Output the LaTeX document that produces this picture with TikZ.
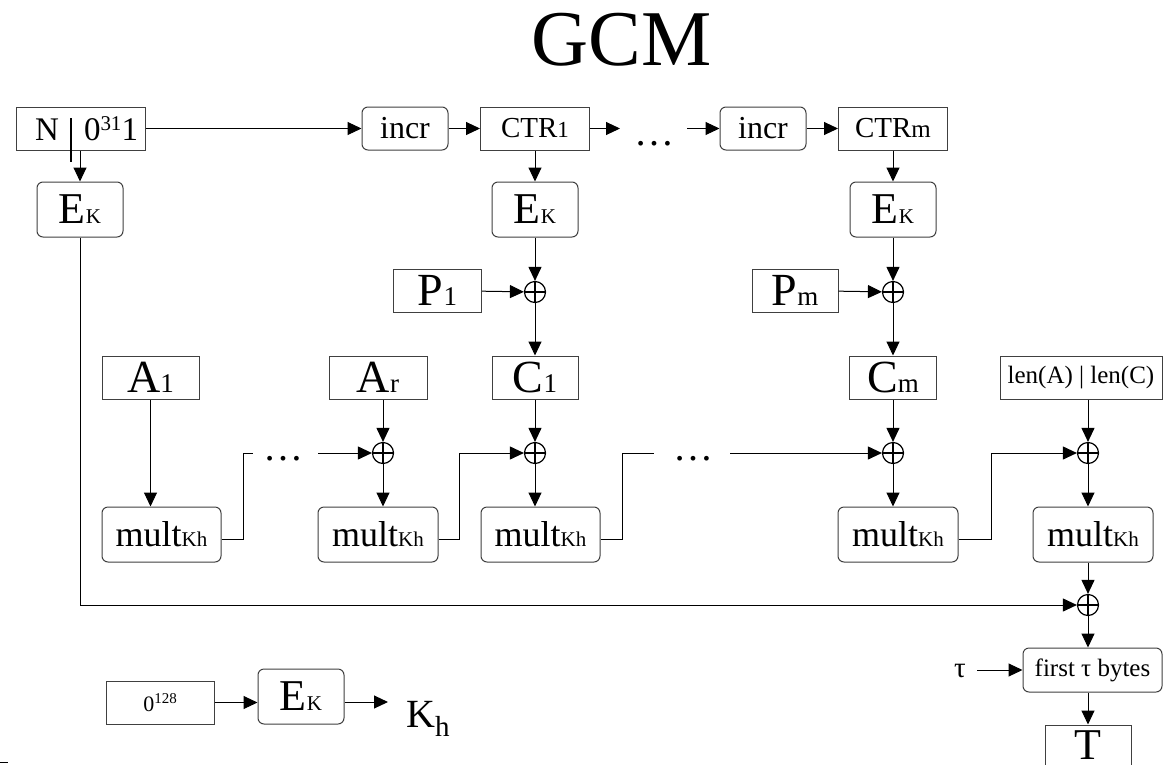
\documentclass[tikz,border=0pt]{standalone}
\usepackage{fontspec}
\setmainfont{Liberation Serif}
\usetikzlibrary{arrows.meta}
\newcommand\fs[1]{\fontsize{#1}{#1}\selectfont}

\tikzset{
  box/.style n args={2}{draw=black!75, line width=1pt, inner sep=0pt,
    minimum width=#1pt, minimum height=#2pt},
  rbox/.style n args={2}{box={#1}{#2}, rounded corners=6pt},
  xor/.style={circle, draw=black, line width=1.2pt, minimum size=21pt, inner sep=0pt,
    path picture={\draw[line width=1.2pt]
      (path picture bounding box.north) -- (path picture bounding box.south)
      (path picture bounding box.west) -- (path picture bounding box.east);}},
  arr/.style={-{Triangle[length=14pt,width=13pt]}, line width=1pt},
  wire/.style={line width=1pt},
  txt/.style={inner sep=0pt, anchor=base},
}

\begin{document}
\begin{tikzpicture}[x=1pt,y=-1pt]
\fill[white] (0,0) rectangle (1163,764);
\useasboundingbox (0,0) rectangle (1163,764);

% title
\node[txt] (title) at (621.5,65) {\fs{79}GCM};

% counter chain
\node[box={129}{43}] (n) at (80.5,128.5) {};
\node[txt] (nN) at (47,140) {\fs{33}N};
\node[txt] (nZ) at (111,140) {\fs{33}0\raisebox{10pt}{\fs{21}31}1};
\draw[line width=1.3pt] (71,118) -- (71,162);

\node[rbox={86}{55}] (ek0) at (80,209.5) {\fs{44}E\fs{21}K};
\node[rbox={86}{43}] (incr1) at (405,128.5) {\fs{32}incr};
\node[box={109}{43}] (ctr1) at (535,128.5) {\fs{29}CTR\fs{23}1};
\coordinate (dt1) at (620,128.5);
\node[txt] (dotsA) at (654,145) {\fs{40}…};
\coordinate (dt2) at (687,128.5);
\node[rbox={86}{43}] (incr2) at (763,128.5) {\fs{32}incr};
\node[box={109}{43}] (ctrm) at (893,128.5) {\fs{29}CTR\fs{25}m};

\draw[arr] (n.east) -- (incr1.west);
\draw[arr] (incr1) -- (ctr1);
\draw[arr] (ctr1.east) -- (dt1);
\draw[arr] (dt2) -- (incr2.west);
\draw[arr] (incr2) -- (ctrm);
\draw[arr] (n.south -| ek0.north) -- (ek0.north);

% encryption of the counters
\node[rbox={86}{55}] (ek1) at (535,209.5) {\fs{44}E\fs{21}K};
\node[rbox={86}{55}] (ekm) at (893,209.5) {\fs{44}E\fs{21}K};
\node[xor] (x1) at (535,292) {};
\node[xor] (xm) at (893,292) {};
\node[box={88}{43}] (p1) at (437.5,290.5) {\fs{46}P\fs{27}1};
\node[box={86}{43}] (pm) at (795,290.5) {\fs{46}P\fs{27}m};
\node[box={86}{43}] (c1) at (535,377.5) {\fs{46}C\fs{27}1};
\node[box={87}{43}] (cm) at (893,377.5) {\fs{46}C\fs{27}m};

\draw[arr] (ctr1) -- (ek1);
\draw[arr] (ctrm) -- (ekm);
\draw[arr] (ek1) -- (x1);
\draw[arr] (ekm) -- (xm);
\draw[arr] (p1) -- (x1);
\draw[arr] (pm) -- (xm);
\draw[arr] (x1) -- (c1);
\draw[arr] (xm) -- (cm);

% authentication chain
\node[box={97}{43}] (a1) at (150.5,377.5) {\fs{46}A\fs{27}1};
\node[box={98}{43}] (ar) at (378,377.5) {\fs{46}A\fs{27}r};
\node[box={162}{43}] (len) at (1081,377.5) {\fs{25}len(A) | len(C)};

\node[xor] (xr) at (383,453) {};
\node[xor] (xc1) at (535,453) {};
\node[xor] (xcm) at (893,453) {};
\node[xor] (xl) at (1088,453) {};

\node[rbox={119}{55}] (m1) at (161.5,534.5) {\fs{36}mult\fs{21}Kh};
\node[rbox={120}{55}] (m2) at (378,534.5) {\fs{36}mult\fs{21}Kh};
\node[rbox={119}{55}] (m3) at (540.5,534.5) {\fs{36}mult\fs{21}Kh};
\node[rbox={120}{55}] (mm) at (898,534.5) {\fs{36}mult\fs{21}Kh};
\node[rbox={120}{55}] (ml) at (1093,534.5) {\fs{36}mult\fs{21}Kh};

\draw[arr] (a1.south) -- (a1.south |- m1.north);
\draw[arr] (xr |- ar.south) -- (xr);
\draw[arr] (xr) -- (xr |- m2.north);
\draw[arr] (c1) -- (xc1);
\draw[arr] (xc1) -- (xc1 |- m3.north);
\draw[arr] (cm) -- (xcm);
\draw[arr] (xcm) -- (xcm |- mm.north);
\draw[arr] (xl |- len.south) -- (xl);
\draw[arr] (xl) -- (xl |- ml.north);

\coordinate (g1) at (253,453);
\coordinate (g2) at (318,453);
\node[txt] (dotsB) at (283,460) {\fs{40}…};
\coordinate (g3) at (654,453);
\coordinate (g4) at (730,453);
\node[txt] (dotsC) at (693,460) {\fs{40}…};

\draw[wire] ([yshift=-4.5pt]m1.east) -| (243,453) -- (g1);
\draw[arr] (g2) -- (xr);
\draw[arr] ([yshift=-4.5pt]m2.east) -| (459,453) -- (xc1);
\draw[wire] ([yshift=-4.5pt]m3.east) -| (622,453) -- (g3);
\draw[arr] (g4) -- (xcm);
\draw[arr] ([yshift=-4.5pt]mm.east) -| (991,453) -- (xl);

% final tag
\node[xor] (xf) at (1088,605) {};
\node[rbox={139}{44}] (first) at (1092.5,670) {\fs{25}first τ bytes};
\node[inner sep=0pt] (tau) at (960,671) {\fs{29}τ};
\node[box={86}{50}] (tbox) at (1088,750) {};
\node[txt] (tlbl) at (1088,759) {\fs{44}T};

\draw[arr] (xf |- ml.south) -- (xf);
\draw[arr] (ek0.south) |- (xf.west);
\draw[arr] (xf) -- (xf |- first.north);
\draw[arr] ([xshift=11pt]tau.east |- first.west) -- (first.west);
\draw[arr] (xf |- first.south) -- (xf |- tbox.north);

% hash key derivation
\node[box={108}{43}] (z) at (160,702.5) {\fs{22}0\raisebox{8pt}{\fs{15}128}};
\node[rbox={86}{55}] (ek2) at (301,696.5) {\fs{44}E\fs{21}K};
\coordinate (khin) at (388,702);
\node[txt, anchor=base west] (kh) at (406,727) {\fs{40}K\raisebox{-9pt}{\fs{29}h}};
\draw[arr] (z.east) -- (z.east -| ek2.west);
\draw[arr] (ek2.east |- khin) -- (khin);

\draw[line width=1pt] (0,762.5) -- (8,762.5);
\end{tikzpicture}
\end{document}
